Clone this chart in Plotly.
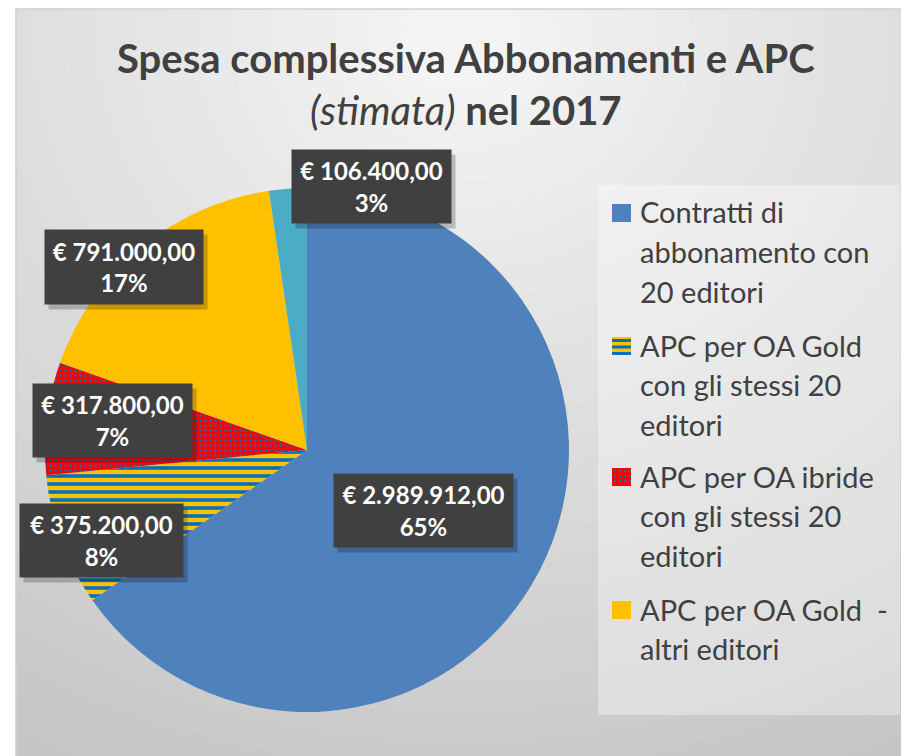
import plotly.graph_objects as go

W, H = 909, 756
OFF = 8  # the page body adds an 8px offset

labels = [
    'Contratti di abbonamento con 20 editori',
    'APC per OA Gold con gli stessi 20 editori',
    'APC per OA ibride con gli stessi 20 editori',
    'APC per OA Gold  - altri editori',
    'Altro',
]
values = [2989912.00, 375200.00, 317800.00, 791000.00, 106400.00]
percents = [65, 8, 7, 17, 3]
# legend text as wrapped in the original (last category not shown)
legend_lines = [
    ['Contratti di', 'abbonamento con', '20 editori'],
    ['APC per OA Gold', 'con gli stessi 20', 'editori'],
    ['APC per OA ibride', 'con gli stessi 20', 'editori'],
    ['APC per OA Gold  -', 'altri editori'],
]

COLORS = ['#4F81BD', '#FFC000', '#FF0000', '#FFC000', '#4BACC6']
SHAPES = ['', '-', '.', '', '']
FG = '#0070C0'
TEXT_DARK = '#404040'
FONT = 'Lato'


def px(x):
    return (x - OFF) / W


def py(y):
    return 1 - (y - OFF) / H


def euro(v):
    s = f'{v:,.2f}'
    return '€ ' + s.replace(',', 'X').replace('.', ',').replace('X', '.')


fig = go.Figure()

# pie: center (307, 450), radius 262 (page pixels)
fig.add_trace(go.Pie(
    labels=labels,
    values=values,
    sort=False,
    direction='clockwise',
    rotation=0,
    textinfo='none',
    showlegend=False,
    marker=dict(
        colors=COLORS,
        line=dict(width=0),
        pattern=dict(shape=SHAPES, fgcolor=[FG] * 5, bgcolor=COLORS,
                     size=[8, 8, 5, 8, 8], solidity=[0.45, 0.45, 0.18, 0.45, 0.45]),
    ),
    domain=dict(x=[px(45), px(569)], y=[py(712), py(188)]),
))

shapes = []
# background gradient (light at top centre, grey towards the corners)
shapes.append(dict(type='rect', xref='paper', yref='paper', x0=-0.01, x1=1.01,
                   y0=-0.01, y1=1.01, fillcolor='#bfbfbf', line_width=0, layer='below'))
steps = 30
for i in range(steps):
    t = i / (steps - 1)
    g = int(0xc0 + (0xf4 - 0xc0) * t)
    rx = 980 * (1 - t) + 60
    ry = 860 * (1 - t) + 50
    cx, cy = 462, 40
    shapes.append(dict(type='circle', xref='paper', yref='paper',
                       x0=px(cx - rx), x1=px(cx + rx), y0=py(cy + ry), y1=py(cy - ry),
                       fillcolor=f'rgb({g},{g},{g})', line_width=0, layer='below'))
# white outside the chart area
shapes.append(dict(type='rect', xref='paper', yref='paper', x0=-0.01, x1=px(16),
                   y0=-0.01, y1=1.01, fillcolor='white', line_width=0, layer='below'))
shapes.append(dict(type='rect', xref='paper', yref='paper', x0=-0.01, x1=1.01,
                   y0=py(9), y1=1.01, fillcolor='white', line_width=0, layer='below'))
# chart frame
shapes.append(dict(type='rect', xref='paper', yref='paper', x0=px(16), x1=px(930),
                   y0=py(780), y1=py(9), line=dict(color='#d0d0d0', width=1.5),
                   fillcolor='rgba(0,0,0,0)', layer='below'))
# legend box
shapes.append(dict(type='rect', xref='paper', yref='paper', x0=px(598), x1=px(900),
                   y0=py(715), y1=py(185), fillcolor='rgba(255,255,255,0.35)',
                   line_width=0, layer='below'))

annotations = []

# title
annotations.append(dict(
    text='<b>Spesa complessiva Abbonamenti e APC</b><br><i>(stimata)</i><b> nel 2017</b>',
    x=px(466), y=py(84), xref='paper', yref='paper', xanchor='center', yanchor='middle',
    showarrow=False, font=dict(family=FONT, size=40, color=TEXT_DARK), align='center',
))

# data label boxes: (left, top, right, bottom) in page pixels
boxes = [(334, 474, 513, 547), (20, 504, 183, 577), (33, 384, 192, 457),
         (45, 230, 203, 304), (292, 150, 451, 223)]
pad = 4
for (l, t, r, b), v, p in zip(boxes, values, percents):
    txt = f'<b>{euro(v)}<br>{p}%</b>'
    common = dict(xref='paper', yref='paper', xanchor='center', yanchor='middle',
                  showarrow=False, align='center', borderpad=pad,
                  width=r - l - 2 * pad, height=b - t - 2 * pad)
    # soft shadow
    annotations.append(dict(text=' ', x=px((l + r) / 2 + 4), y=py((t + b) / 2 + 5),
                            bgcolor='rgba(0,0,0,0.22)',
                            font=dict(family=FONT, size=23), **common))
    annotations.append(dict(text=txt, x=px((l + r) / 2), y=py((t + b) / 2),
                            bgcolor='#404040',
                            font=dict(family=FONT, size=24, color='white'), **common))

# custom legend (only the first four categories, as in the original)
first_line_y = [212, 345, 476, 609]
line_h = 39.5
for k, lines in enumerate(legend_lines):
    y0 = first_line_y[k]
    for j, line in enumerate(lines):
        annotations.append(dict(
            text=line, x=px(638), y=py(y0 + j * line_h), xref='paper', yref='paper',
            xanchor='left', yanchor='middle', showarrow=False,
            font=dict(family=FONT, size=29, color=TEXT_DARK),
        ))
    # icon
    ix0, ix1, iy0, iy1 = 612, 631, y0 - 8, y0 + 10
    shapes.append(dict(type='rect', xref='paper', yref='paper', x0=px(ix0), x1=px(ix1),
                       y0=py(iy1), y1=py(iy0), fillcolor=COLORS[k], line_width=0))
    if SHAPES[k] == '-':
        yy = iy0 + 2
        while yy < iy1 - 1:
            shapes.append(dict(type='rect', xref='paper', yref='paper', x0=px(ix0), x1=px(ix1),
                               y0=py(yy + 3), y1=py(yy), fillcolor=FG, line_width=0))
            yy += 6.5
    elif SHAPES[k] == '.':
        for yy in range(iy0 + 2, iy1 - 1, 5):
            for xx in range(ix0 + 2, ix1 - 1, 5):
                shapes.append(dict(type='rect', xref='paper', yref='paper', x0=px(xx),
                                   x1=px(xx + 2), y0=py(yy + 2), y1=py(yy),
                                   fillcolor=FG, line_width=0))

fig.update_layout(
    width=W, height=H,
    margin=dict(l=0, r=0, t=0, b=0),
    paper_bgcolor='white',
    plot_bgcolor='rgba(0,0,0,0)',
    shapes=shapes,
    annotations=annotations,
    showlegend=False,
    font=dict(family=FONT, color=TEXT_DARK),
)

fig.write_html('out.html')
